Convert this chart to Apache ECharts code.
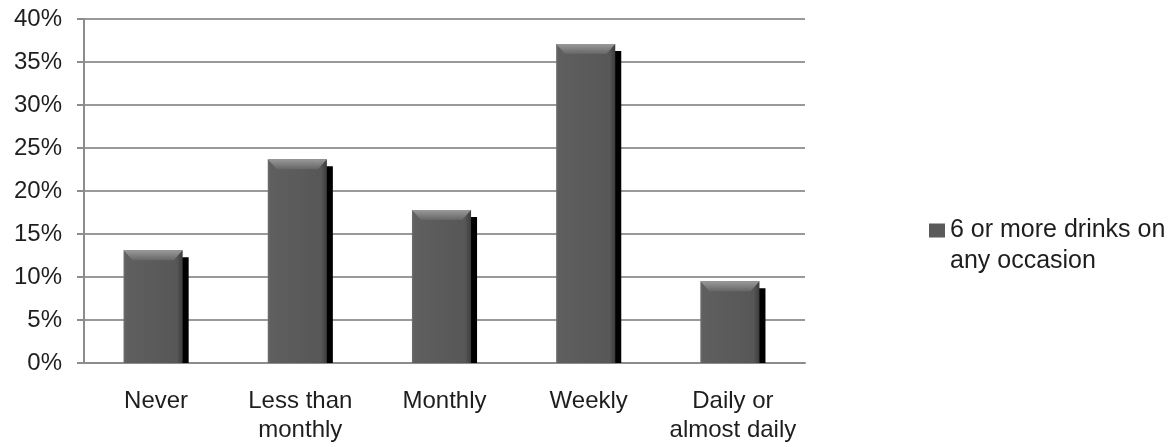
<!DOCTYPE html>
<html>
<head>
<meta charset="utf-8">
<script src="https://cdn.jsdelivr.net/npm/echarts@6/dist/echarts.min.js"></script>
<style>
  html, body { margin: 0; padding: 0; background: #fff; }
  #main { width: 1175px; height: 447px; }
</style>
</head>
<body>
<div id="main"></div>
<script>
  // data
  var categories = ['Never', 'Less than\nmonthly', 'Monthly', 'Weekly', 'Daily or\nalmost daily'];
  var drinkValues = [13.1, 23.7, 17.8, 37.1, 9.5];
  var seriesName = '6 or more drinks on\nany occasion';
  var yTicks = { min: 0, max: 40, interval: 5 };

  var font = "'Liberation Sans', Arial, Helvetica, sans-serif";
  var chart = echarts.init(document.getElementById('main'));

  var bodyFill = new echarts.graphic.LinearGradient(0, 0, 1, 0, [
    { offset: 0, color: '#6e6e6e' },
    { offset: 0.04, color: '#5f5f5f' },
    { offset: 0.9, color: '#575757' },
    { offset: 1, color: '#3c3c3c' }
  ]);
  var topFill = new echarts.graphic.LinearGradient(0, 0, 0, 1, [
    { offset: 0, color: '#9a9a9a' },
    { offset: 1, color: '#666666' }
  ]);

  chart.setOption({
    animation: false,
    grid: { left: 84, right: 370, top: 19, bottom: 84 },
    legend: {
      data: [seriesName],
      orient: 'vertical',
      left: 929,
      top: 184,
      padding: 0,
      icon: 'rect',
      itemWidth: 16,
      itemHeight: 14,
      // blank first line so the swatch sits beside the first text line
      formatter: function (name) { return ' \n' + name; },
      textStyle: {
        fontFamily: font, fontSize: 25, color: '#1e1e1e', lineHeight: 31
      }
    },
    xAxis: {
      type: 'category',
      data: categories,
      axisLine: { lineStyle: { color: '#8c8c8c', width: 2 } },
      axisTick: { length: 7, lineStyle: { color: '#8c8c8c', width: 2 } },
      axisLabel: { interval: 0, fontFamily: font, fontSize: 24, color: '#1e1e1e', lineHeight: 29, margin: 24 }
    },
    yAxis: {
      type: 'value',
      min: yTicks.min,
      max: yTicks.max,
      interval: yTicks.interval,
      axisLine: { show: true, lineStyle: { color: '#8c8c8c', width: 2 } },
      axisTick: { show: true, length: 7, lineStyle: { color: '#8c8c8c', width: 2 } },
      splitLine: { lineStyle: { color: '#999999', width: 2 } },
      axisLabel: { fontFamily: font, fontSize: 24, color: '#1e1e1e', margin: 22, formatter: '{value}%' }
    },
    series: [{
      name: seriesName,
      type: 'custom',
      itemStyle: { color: '#5a5a5a' },
      data: drinkValues.map(function (v, i) { return [i, v]; }),
      renderItem: function (params, api) {
        var top = api.coord([api.value(0), api.value(1)]);
        var base = api.coord([api.value(0), 0]);
        var bw = api.size([1, 0])[0] * 0.41;
        var x = top[0] - (bw + 6) / 2;
        var y = top[1];
        var h = base[1] - y;
        return {
          type: 'group',
          children: [
            { type: 'rect', shape: { x: x + 6, y: y + 7, width: bw, height: h - 7 }, style: { fill: '#000' } },
            { type: 'rect', shape: { x: x, y: y, width: bw, height: h }, style: { fill: bodyFill } },
            { type: 'polygon', shape: { points: [[x, y], [x + bw, y], [x + bw - 9, y + 10], [x + 9, y + 10]] }, style: { fill: topFill } }
          ]
        };
      }
    }]
  });
</script>
</body>
</html>
